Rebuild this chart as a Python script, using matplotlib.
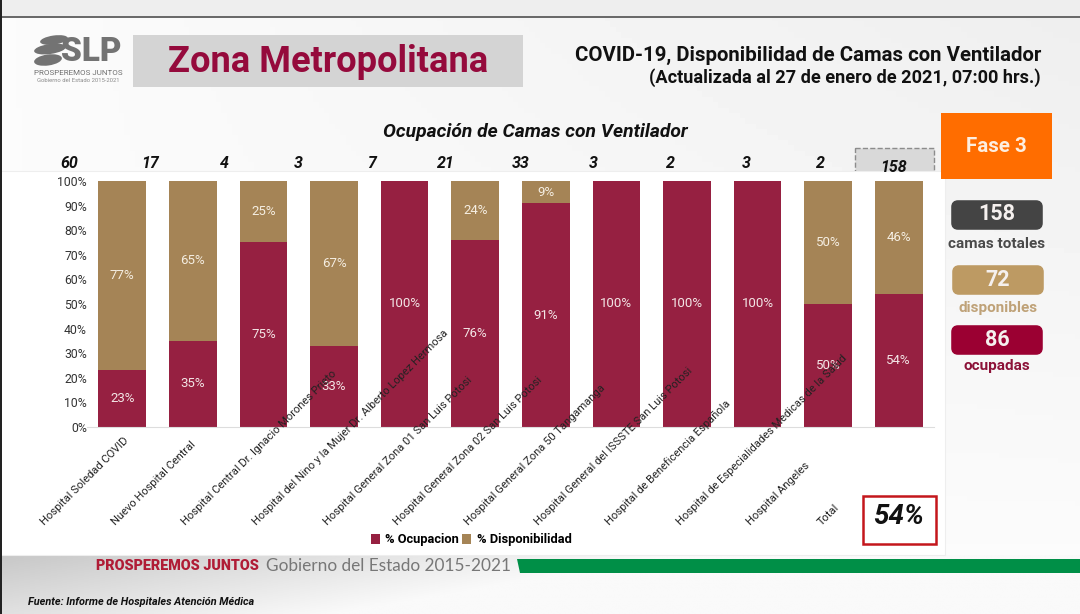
import numpy as np
import matplotlib
matplotlib.use("Agg")
import matplotlib.pyplot as plt
from matplotlib.patches import Rectangle, FancyBboxPatch, Ellipse, Polygon

plt.rcParams['font.family'] = ['Roboto', 'DejaVu Sans']

hospitales = ["Hospital Soledad COVID", "Nuevo Hospital Central",
              "Hospital Central Dr. Ignacio Morones Prieto",
              "Hospital del Nino y la Mujer Dr. Alberto Lopez Hermosa",
              "Hospital General Zona 01 San Luis Potosi",
              "Hospital General Zona 02 San Luis Potosi",
              "Hospital General Zona 50 Tangamanga",
              "Hospital General del ISSSTE San Luis Potosi",
              "Hospital de Beneficencia Española",
              "Hospital de Especialidades Medicas de la Salud",
              "Hospital Angeles", "Total"]
ocupacion = [23, 35, 75, 33, 100, 76, 91, 100, 100, 100, 50, 54]
disponibilidad = [77, 65, 25, 67, 0, 24, 9, 0, 0, 0, 50, 46]
camas = [60, 17, 4, 3, 7, 21, 33, 3, 2, 3, 2, 158]
camas_x = [69, 150, 224, 298, 372, 446, 521, 593, 670, 746, 820, 893]

ROJO = '#962041'
ORO = '#A58456'

fig = plt.figure(figsize=(10.8, 6.14), dpi=100)

# fondo y adornos, en pixeles de la imagen
bg = fig.add_axes([0, 0, 1, 1], zorder=0)
bg.set_xlim(0, 1080)
bg.set_ylim(614, 0)
bg.axis('off')

xx, yy = np.meshgrid(np.linspace(0, 1, 200), np.linspace(0, 1, 100))
bg.imshow(0.985 - 0.05 * xx * (1 - yy), extent=[0, 1080, 555, 16], cmap='gray',
          vmin=0, vmax=1, aspect='auto', zorder=0)
bg.imshow(0.78 + 0.2 * np.clip(xx * 1.6 + yy * 0.5, 0, 1), extent=[0, 1080, 614, 555],
          cmap='gray', vmin=0, vmax=1, aspect='auto', zorder=0)
bg.set_xlim(0, 1080)
bg.set_ylim(614, 0)
bg.add_patch(Rectangle((0, 0), 1080, 16, fc='#eeeeee', ec='none', zorder=1))
bg.add_patch(Rectangle((0, 15.5), 1080, 2, fc='#6a6a6a', ec='none', zorder=1))
bg.add_patch(Rectangle((0, 0), 1.5, 614, fc='#222222', ec='none', zorder=5))

# panel blanco del grafico
bg.add_patch(Rectangle((855, 148), 79, 30, fc='#d9d9d9', ec='#8c8c8c', ls='--', lw=1, zorder=1))
bg.add_patch(Rectangle((0, 171), 945, 384, fc='white', ec='#eeeeee', lw=0.8, zorder=2))

# logo
for cx, cy, w, h in [(54, 40, 28, 9), (50, 49, 32, 10), (48, 60, 28, 11)]:
    bg.add_patch(Ellipse((cx, cy), w, h, angle=-8, fc='#737373', ec='none', zorder=3))
bg.text(91, 52, "SLP", fontsize=24, fontweight='black', color='#737373', ha='center', va='center')
bg.text(78, 73, "PROSPEREMOS JUNTOS", fontsize=5.8, color='#6f6f6f', ha='center', va='center')
bg.text(78, 81, "Gobierno del Estado 2015-2021", fontsize=4.2, color='#8a8a8a', ha='center', va='center')

# encabezado
bg.add_patch(Rectangle((133, 35), 390, 52, fc='#d4d4d4', ec='none', zorder=3))
bg.text(328, 62, "Zona Metropolitana", fontsize=26.1, fontweight='bold', color='#950a3c',
        ha='center', va='center', zorder=4)
bg.text(1041, 55, "COVID-19, Disponibilidad de Camas con Ventilador", fontsize=14.7,
        fontweight='bold', color='#111111', ha='right', va='center')
bg.text(1041, 78, "(Actualizada al 27 de enero de 2021, 07:00 hrs.)", fontsize=13.1,
        fontweight='bold', color='#111111', ha='right', va='center')
bg.text(535, 132, "Ocupación de Camas con Ventilador", fontsize=13.9, fontweight='bold',
        style='italic', color='#111111', ha='center', va='center')

for x, n in zip(camas_x, camas):
    bg.text(x, 167 if n == 158 else 164, str(n), fontsize=11.5, fontweight='bold', style='italic',
            color='#111111', ha='center', va='center', zorder=6)

# recuadros de la derecha
bg.add_patch(Rectangle((941, 113), 111, 66, fc='#ff6d00', ec='none', zorder=3))
bg.text(996, 146, "Fase 3", fontsize=14.8, fontweight='bold', color='#fdeee0', ha='center', va='center', zorder=4)
cajas = [(950, 199, "158", '#444444', "camas totales", '#4a4a4a', 244),
         (951, 264, "72", '#bd9a63', "disponibles", '#bfa278', 308),
         (950, 324, "86", '#9b0032', "ocupadas", '#8c1238', 366)]
for x, y, num, col, txt, tcol, ty in cajas:
    bg.add_patch(FancyBboxPatch((x + 4, y + 4), 86, 24, boxstyle="round,pad=0,rounding_size=4",
                                fc=col, ec=col, lw=8 * 0.5, zorder=3))
    bg.text(x + 47, y + 15.5, num, fontsize=15.5, fontweight='bold', color='#f5f0ee',
            ha='center', va='center', zorder=4)
    bg.text(x + 47, ty, txt, fontsize=11, fontweight='bold', color=tcol, ha='center', va='center', zorder=4)

# recuadro 54%
bg.add_patch(Rectangle((862.5, 495.5), 73, 48, fc='white', ec='#c4161c', lw=1.8, zorder=3))
bg.text(899, 516, "54%", fontsize=20, fontweight='bold', style='italic', color='#111111',
        ha='center', va='center', zorder=4)

# pie
bg.text(96, 566, "PROSPEREMOS JUNTOS", fontsize=10.4, fontweight='black', color='#b01c36',
        ha='left', va='center', zorder=4)
bg.text(266, 566, "Gobierno del Estado 2015-2021", fontsize=12.4, color='#777777',
        family=['Lato', 'DejaVu Sans'], ha='left', va='center', zorder=4)
bg.add_patch(Polygon([(517, 559), (1080, 559), (1080, 573), (520, 573)], fc='#008f47', ec='none', zorder=4))
bg.text(28, 602, "Fuente: Informe de Hospitales Atención Médica", fontsize=7.8, fontweight='bold',
        style='italic', color='#111111', ha='left', va='center', zorder=4)

# grafico de barras
ax = fig.add_axes([87 / 1080, 1 - 427 / 614, 847 / 1080, 246 / 614], zorder=1)
ax.patch.set_alpha(0)
pos = np.arange(len(hospitales))
b1 = ax.bar(pos, ocupacion, width=0.675, color=ROJO, label='% Ocupacion')
b2 = ax.bar(pos, disponibilidad, width=0.675, bottom=ocupacion, color=ORO, label='% Disponibilidad')
ax.set_xlim(-0.5, 11.5)
ax.set_ylim(0, 100)
ax.set_yticks(range(0, 101, 10))
ax.set_yticklabels([f"{v}%" for v in range(0, 101, 10)], fontsize=8.8, color='#333333')
ax.tick_params(axis='y', length=0, pad=0)
ax.set_xticks([])
for s in ['top', 'right', 'left']:
    ax.spines[s].set_visible(False)
ax.spines['bottom'].set_color('#dddddd')

for i in pos:
    ax.text(i, ocupacion[i] / 2, f"{ocupacion[i]}%", fontsize=9.5, color='#f3e6e6', ha='center', va='center')
    if disponibilidad[i] > 0:
        ax.text(i, ocupacion[i] + disponibilidad[i] / 2, f"{disponibilidad[i]}%", fontsize=9.5,
                color='#f5eee2', ha='center', va='center')

# etiquetas a 45 grados, ancladas por su inicio abajo a la izquierda
for i, nombre in enumerate(hospitales):
    ax.annotate(nombre, xy=(i, 0), xycoords=('data', 'axes fraction'),
                xytext=(-76, -100), textcoords='offset pixels', rotation=45,
                rotation_mode='anchor', ha='left', va='bottom', fontsize=8,
                color='#222222', annotation_clip=False)

leg = ax.legend(handles=[b1, b2], loc='center', bbox_to_anchor=(471 / 1080, 1 - 540 / 614),
                bbox_transform=fig.transFigure, ncol=2, frameon=False,
                handlelength=0.7, handleheight=0.7, handletextpad=0.4, columnspacing=0.3,
                prop={'weight': 'bold', 'size': 9.3})

fig.savefig('out.png', dpi=100)
